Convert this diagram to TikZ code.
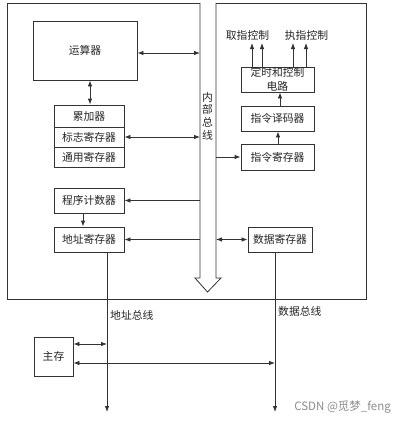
\documentclass[tikz,border=0pt]{standalone}
\usepackage{fontspec}
\newfontfamily\cjk{Noto Sans CJK SC}
\usetikzlibrary{arrows.meta,calc}
\begin{document}
\begin{tikzpicture}[x=1pt,y=-1pt,
  ln/.style={draw=black!80,line width=0.8pt},
  box/.style={ln,rectangle,inner sep=0pt,font=\cjk\fontsize{10.8}{14}\selectfont,text=black!85,align=center},
  lbl/.style={inner sep=0pt,font=\cjk\fontsize{10.8}{12.5}\selectfont,text=black!85,align=center},
  ar/.style={ln,-{Latex[length=6pt,width=4.5pt]}},
  dar/.style={ln,{Latex[length=6pt,width=4.5pt]}-{Latex[length=6pt,width=4.5pt]}}]
\useasboundingbox (0,0) rectangle (405,424);
\fill[white] (0,0) rectangle (405,424);
% outer frame and internal bus
\draw[ln] (200,3) -- (7,3) -- (7,299) -- (366,299) -- (366,3) -- (216,3);
\draw[ln] (200,3) -- (200,278) -- (195,278) -- (207.5,292) -- (221,278) -- (216,278) -- (216,3);
\coordinate (busL) at (200,0);
\coordinate (busR) at (216,0);
\node[lbl,font=\cjk\fontsize{10.8}{12.7}\selectfont] (bus) at (207.5,116) {内\\部\\总\\线};
% left side
\node[box,minimum width=104pt,minimum height=59pt] (alu) at (85,50.5) {运算器};
\node[box,minimum width=70pt,minimum height=22pt] (acc) at (89,116) {累加器};
\node[box,minimum width=70pt,minimum height=20pt] (flag) at (89,137) {标志寄存器};
\node[box,minimum width=70pt,minimum height=20pt] (gen) at (89,157) {通用寄存器};
\node[box,minimum width=70pt,minimum height=25pt] (pc) at (89,200.5) {程序计数器};
\node[box,minimum width=70pt,minimum height=25pt] (ar) at (89,239.5) {地址寄存器};
% right side
\node[box,minimum width=73pt,minimum height=25pt] (tim) at (277.5,79.5) {定时和控制\\电路};
\node[box,minimum width=73pt,minimum height=25pt] (dec) at (277.5,118.5) {指令译码器};
\node[box,minimum width=73pt,minimum height=26pt] (ir) at (277.5,157) {指令寄存器};
\node[box,minimum width=64pt,minimum height=25pt] (dr) at (280,239.5) {数据寄存器};
\node[lbl] (fetch) at (247.5,35) {取指控制};
\node[lbl] (exec) at (306.5,35) {执指控制};
% memory
\node[box,minimum width=39pt,minimum height=39pt] (mem) at (53.5,356.5) {主存};
\node[lbl,anchor=west] (abl) at (110,315) {地址总线};
\node[lbl,anchor=west] (dbl) at (278,311) {数据总线};
\node[lbl,anchor=east,font=\cjk\fontsize{11.5}{13}\selectfont,text=black!45] (wm) at (391,407) {CSDN @觅梦\_feng};
% connectors left
\draw[dar] (alu.east |- 0,53) -- (busL |- 0,53);
\draw[dar] (alu.south -| 90,0) -- (acc.north -| 90,0);
\draw[dar] (flag.east) -- (flag.east -| busL);
\draw[ar] (pc.east -| busL) -- (pc.east);
\draw[ar] (ar.east -| busL) -- (ar.east);
\draw[ar] (pc.south -| 83,0) -- (ar.north -| 83,0);
% connectors right
\draw[ar] (ir.west -| busR) -- (ir.west);
\draw[ar] (ir.north -| 278,0) -- (dec.south -| 278,0);
\draw[ar] (dec.north -| 280,0) -- (tim.south -| 280,0);
\coordinate (f1) at (252,43);
\coordinate (f2) at (262,43);
\coordinate (e1) at (293,43);
\coordinate (e2) at (306,43);
\draw[ar] (tim.north -| f1) -- (f1);
\draw[ar] (tim.north -| f2) -- (f2);
\draw[ar] (tim.north -| e1) -- (e1);
\draw[ar] (tim.north -| e2) -- (e2);
\draw[dar] (dr.west -| busR) -- (dr.west);
% external buses
\coordinate (aend) at (107,412);
\coordinate (dend) at (275,412);
\draw[ar] (ar.south -| aend) -- (aend);
\draw[ar] (dr.south -| dend) -- (dend);
\draw[dar] (mem.east |- 0,344) -- (aend |- 0,344);
\draw[dar] (mem.east |- 0,363) -- (dend |- 0,363);
\end{tikzpicture}
\end{document}
